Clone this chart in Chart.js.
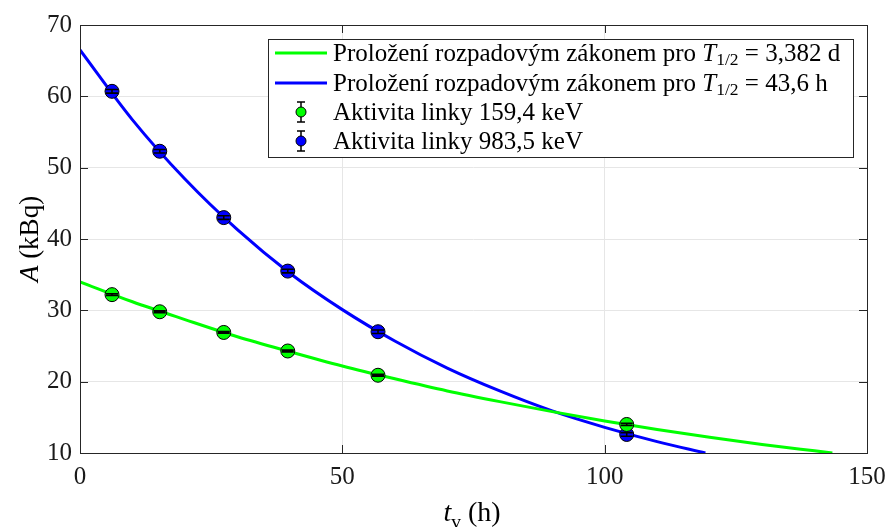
<!DOCTYPE html>
<html>
<head>
<meta charset="utf-8">
<script src="https://cdn.jsdelivr.net/npm/chart.js@4/dist/chart.umd.min.js"></script>
<style>
  html, body { margin: 0; padding: 0; background: #fff; }
  #wrap { width: 888px; height: 527px; }
</style>
</head>
<body>
<div id="wrap"><canvas id="decay-chart" width="888" height="527"></canvas></div>
<script>
// --- Naměřené aktivity ---
const measTimes = [6.1, 15.2, 27.4, 39.6, 56.8, 104.2];
const activity159 = [32.2, 29.8, 26.9, 24.3, 20.9, 14.0];
const activity983 = [60.7, 52.3, 43.0, 35.5, 27.0, 12.6];
const error159 = [0.12, 0.12, 0.12, 0.12, 0.12, 0.15];
const error983 = [0.25, 0.25, 0.25, 0.25, 0.25, 0.25];

// --- Proložené křivky ---
const fitTimes159 = [0, 10, 20, 30, 40, 50, 60, 70, 80, 90, 100, 110, 120, 130, 140, 143.4];
const fitValues159 = [34.0, 31.2, 28.7, 26.3, 24.2, 22.2, 20.4, 18.7, 17.2, 15.8, 14.5, 13.3, 12.2, 11.2, 10.3, 10.0];
const fitTimes983 = [0, 10, 20, 30, 40, 50, 60, 70, 80, 90, 100, 110, 119.2];
const fitValues983 = [66.5, 56.7, 48.4, 41.3, 35.2, 30.1, 25.7, 21.9, 18.7, 15.9, 13.6, 11.6, 10.0];

// --- Osy ---
const xTicks = [0, 50, 100, 150];
const yTicks = [10, 20, 30, 40, 50, 60, 70];

const GREEN = '#00ff00';
const BLUE = '#0000ff';
const SERIF = '"Liberation Serif", "DejaVu Serif", serif';

const toXY = (xs, ys) => xs.map((x, i) => ({ x: x, y: ys[i] }));

// kreslí text po částech (normální / kurzíva / dolní index)
function drawRich(ctx, parts, x, y, size) {
    let cx = x;
    parts.forEach(p => {
        const fs = p.sub ? size * 0.7 : size;
        ctx.font = (p.italic ? 'italic ' : '') + fs + 'px ' + SERIF;
        ctx.fillText(p.t, cx, y + (p.sub ? size * 0.25 : 0));
        cx += ctx.measureText(p.t).width;
    });
    return cx - x;
}

function richWidth(ctx, parts, size) {
    let w = 0;
    parts.forEach(p => {
        const fs = p.sub ? size * 0.7 : size;
        ctx.font = (p.italic ? 'italic ' : '') + fs + 'px ' + SERIF;
        w += ctx.measureText(p.t).width;
    });
    return w;
}

// chybové úsečky, rámeček, tiky dovnitř, popisky os a legenda
const decorPlugin = {
    id: 'decor',
    afterDatasetsDraw(chart) {
        const ctx = chart.ctx;
        const xs = chart.scales.x, ys = chart.scales.y;
        const area = chart.chartArea;

        // chybové úsečky
        ctx.save();
        ctx.strokeStyle = '#000';
        ctx.lineWidth = 1.6;
        [[activity159, error159], [activity983, error983]].forEach(([vals, errs]) => {
            measTimes.forEach((t, i) => {
                const px = xs.getPixelForValue(t);
                const top = ys.getPixelForValue(vals[i] + errs[i]);
                const bot = ys.getPixelForValue(vals[i] - errs[i]);
                ctx.beginPath();
                ctx.moveTo(px, top); ctx.lineTo(px, bot);
                ctx.moveTo(px - 6, top); ctx.lineTo(px + 6, top);
                ctx.moveTo(px - 6, bot); ctx.lineTo(px + 6, bot);
                ctx.stroke();
            });
        });
        ctx.restore();

        // rámeček a tiky
        ctx.save();
        ctx.strokeStyle = '#262626';
        ctx.lineWidth = 1;
        ctx.strokeRect(Math.round(area.left) + 0.5, Math.round(area.top) + 0.5,
            Math.round(area.right - area.left), Math.round(area.bottom - area.top));
        ctx.beginPath();
        xTicks.forEach(v => {
            const px = Math.round(xs.getPixelForValue(v)) + 0.5;
            ctx.moveTo(px, area.bottom); ctx.lineTo(px, area.bottom - 8);
            ctx.moveTo(px, area.top); ctx.lineTo(px, area.top + 8);
        });
        yTicks.forEach(v => {
            const py = Math.round(ys.getPixelForValue(v)) + 0.5;
            ctx.moveTo(area.left, py); ctx.lineTo(area.left + 8, py);
            ctx.moveTo(area.right, py); ctx.lineTo(area.right - 8, py);
        });
        ctx.stroke();
        ctx.restore();

        // popisky os
        ctx.save();
        ctx.fillStyle = '#000';
        ctx.textBaseline = 'alphabetic';
        const xLabel = [{ t: 't', italic: true }, { t: 'v', sub: true }, { t: ' (h)' }];
        const xw = richWidth(ctx, xLabel, 28);
        drawRich(ctx, xLabel, 472 - xw / 2, 521, 28);
        ctx.translate(38, (area.top + area.bottom) / 2);
        ctx.rotate(-Math.PI / 2);
        const yLabel = [{ t: 'A', italic: true }, { t: ' (kBq)' }];
        const yw = richWidth(ctx, yLabel, 27);
        drawRich(ctx, yLabel, -yw / 2, 0, 27);
        ctx.restore();

        // legenda
        ctx.save();
        const lx = 268, ly = 39, lw = 585, lh = 118;
        ctx.fillStyle = '#fff';
        ctx.fillRect(lx, ly, lw, lh);
        ctx.strokeStyle = '#262626';
        ctx.lineWidth = 1;
        ctx.strokeRect(lx + 0.5, ly + 0.5, lw, lh);
        const rows = [
            { kind: 'line', color: GREEN, y: 53, parts: [{ t: 'Proložení rozpadovým zákonem pro ' }, { t: 'T', italic: true }, { t: '1/2', sub: true }, { t: ' = 3,382 d' }] },
            { kind: 'line', color: BLUE, y: 83, parts: [{ t: 'Proložení rozpadovým zákonem pro ' }, { t: 'T', italic: true }, { t: '1/2', sub: true }, { t: ' = 43,6 h' }] },
            { kind: 'point', color: GREEN, y: 112, parts: [{ t: 'Aktivita linky 159,4 keV' }] },
            { kind: 'point', color: BLUE, y: 141, parts: [{ t: 'Aktivita linky 983,5 keV' }] }
        ];
        rows.forEach(r => {
            if (r.kind === 'line') {
                ctx.strokeStyle = r.color;
                ctx.lineWidth = 3;
                ctx.beginPath();
                ctx.moveTo(275, r.y); ctx.lineTo(327, r.y);
                ctx.stroke();
            } else {
                ctx.strokeStyle = '#000';
                ctx.lineWidth = 1.5;
                ctx.beginPath();
                ctx.moveTo(301, r.y - 10); ctx.lineTo(301, r.y + 10);
                ctx.moveTo(297, r.y - 10); ctx.lineTo(305, r.y - 10);
                ctx.moveTo(297, r.y + 10); ctx.lineTo(305, r.y + 10);
                ctx.stroke();
                ctx.beginPath();
                ctx.arc(301, r.y, 5, 0, Math.PI * 2);
                ctx.fillStyle = r.color;
                ctx.fill();
                ctx.lineWidth = 1;
                ctx.stroke();
            }
            ctx.fillStyle = '#000';
            ctx.textBaseline = 'middle';
            drawRich(ctx, r.parts, 333, r.y + 1, 25);
        });
        ctx.restore();
    }
};

const ctx = document.getElementById('decay-chart').getContext('2d');
new Chart(ctx, {
    type: 'scatter',
    data: {
        datasets: [
            {
                label: 'Aktivita linky 159,4 keV',
                data: toXY(measTimes, activity159),
                backgroundColor: GREEN,
                borderColor: '#000',
                borderWidth: 1,
                pointRadius: 7,
                order: 0
            },
            {
                label: 'Aktivita linky 983,5 keV',
                data: toXY(measTimes, activity983),
                backgroundColor: BLUE,
                borderColor: '#000',
                borderWidth: 1,
                pointRadius: 7,
                order: 0
            },
            {
                label: 'Proložení T1/2 = 3,382 d',
                data: toXY(fitTimes159, fitValues159),
                showLine: true,
                borderColor: GREEN,
                borderWidth: 3,
                pointRadius: 0,
                cubicInterpolationMode: 'monotone',
                order: 1
            },
            {
                label: 'Proložení T1/2 = 43,6 h',
                data: toXY(fitTimes983, fitValues983),
                showLine: true,
                borderColor: BLUE,
                borderWidth: 3,
                pointRadius: 0,
                cubicInterpolationMode: 'monotone',
                order: 1
            }
        ]
    },
    options: {
        responsive: false,
        animation: false,
        layout: { padding: { top: 25, right: 21, left: 0, bottom: 0 } },
        plugins: {
            legend: { display: false },
            tooltip: { enabled: false }
        },
        scales: {
            x: {
                type: 'linear',
                min: 0, max: 150,
                afterBuildTicks: s => { s.ticks = xTicks.map(v => ({ value: v })); },
                afterFit: s => { s.height = 74; s.paddingLeft = 0; s.paddingRight = 0; },
                grid: { color: '#e6e6e6', drawTicks: false },
                border: { display: false },
                ticks: { color: '#1a1a1a', font: { family: SERIF, size: 25 }, padding: 9, maxRotation: 0 }
            },
            y: {
                type: 'linear',
                min: 10, max: 70,
                afterBuildTicks: s => { s.ticks = yTicks.map(v => ({ value: v })); },
                afterFit: s => { s.width = 80; s.paddingTop = 0; s.paddingBottom = 0; },
                grid: { color: '#e6e6e6', drawTicks: false },
                border: { display: false },
                ticks: { color: '#1a1a1a', font: { family: SERIF, size: 25 }, padding: 8 }
            }
        }
    },
    plugins: [decorPlugin]
});
</script>
</body>
</html>
